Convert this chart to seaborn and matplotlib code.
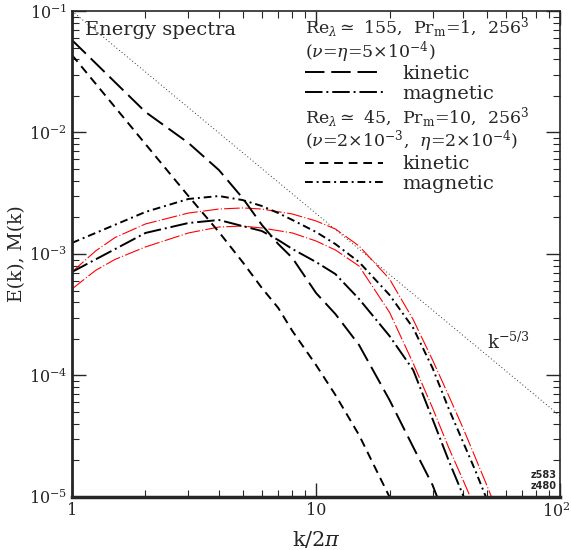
import numpy as np
import pandas as pd
import matplotlib
matplotlib.use("Agg")
import matplotlib.pyplot as plt
import matplotlib.ticker as mticker
import matplotlib.transforms as mtrans
import seaborn as sns

# spectra (log10 of E or M)
k_A = [1, 2, 3, 4, 5, 6, 7, 8, 10, 12, 15, 20, 25, 30, 35]
logE_A = [-1.239, -1.831, -2.086, -2.309, -2.539, -2.761, -2.918, -3.033,
          -3.321, -3.494, -3.749, -4.202, -4.589, -4.901, -5.25]

k_B = [1, 2, 3, 4, 5, 6, 7, 8, 10, 12, 15, 20, 25]
logE_B = [-1.362, -2.095, -2.523, -2.819, -3.066, -3.280, -3.444, -3.634,
          -3.914, -4.160, -4.490, -5.0, -5.52]

k_C = [1, 2, 3, 4, 5, 6, 7, 8, 10, 12, 15, 20, 25, 30, 35, 40, 45]
logM_C = [-3.148, -2.827, -2.745, -2.720, -2.770, -2.811, -2.885, -2.959,
          -3.066, -3.165, -3.370, -3.675, -3.955, -4.358, -4.704, -4.984, -5.3]

k_D = [1, 2, 3, 4, 5, 6, 7, 8, 10, 12, 15, 20, 25, 30, 35, 40, 45, 50, 55]
logM_D = [-2.909, -2.654, -2.547, -2.523, -2.556, -2.605, -2.663, -2.720,
          -2.819, -2.918, -3.066, -3.337, -3.609, -3.938, -4.276, -4.547,
          -4.786, -5.016, -5.25]

k_red = [1, 1.25, 1.5, 2, 3, 4, 5, 6, 8, 10, 12, 15, 20, 25, 30, 35, 40, 45, 50, 55]
logM_red_up = [-3.148, -2.975, -2.865, -2.753, -2.663, -2.630, -2.621, -2.630,
               -2.671, -2.728, -2.794, -2.934, -3.206, -3.540, -3.872, -4.169,
               -4.432, -4.679, -4.901, -5.107]
k_red2 = [1, 1.25, 1.5, 2, 3, 4, 5, 6, 8, 10, 12, 15, 20, 25, 30, 35, 40, 45]
logM_red_lo = [-3.288, -3.135, -3.045, -2.942, -2.827, -2.778, -2.770, -2.786,
               -2.827, -2.893, -2.967, -3.099, -3.480, -3.900, -4.267, -4.597,
               -4.860, -5.099]

k_ref = [1, 100]
E_ref = [0.1, 0.1 * 100 ** (-5 / 3)]

sns.set_style("ticks")
plt.rcParams['font.family'] = ['DejaVu Serif']
plt.rcParams['mathtext.fontset'] = 'dejavuserif'

fig = plt.figure(figsize=(5.71, 5.5), dpi=100)
ax = fig.add_axes([0.126, 0.0964, 0.855, 0.8836])


def curve(k, logv, **kw):
    df = pd.DataFrame({'k': k, 'v': 10 ** np.array(logv)})
    sns.lineplot(data=df, x='k', y='v', estimator=None, ax=ax, **kw)
    return ax.lines[-1]


curve(k_ref, np.log10(E_ref), color='0.2', lw=0.7, linestyle=(0, (1, 2.5)))
curve(k_red, logM_red_up, color='red', lw=0.8, linestyle=(0, (14, 2, 1, 2)))
curve(k_red2, logM_red_lo, color='red', lw=0.8, linestyle=(0, (14, 2, 1, 2)))
hA = curve(k_A, logE_A, color='k', lw=1.4, linestyle=(0, (10, 3.5)))
hC = curve(k_C, logM_C, color='k', lw=1.4, linestyle=(0, (9, 2, 1, 2)))
hB = curve(k_B, logE_B, color='k', lw=1.4, linestyle=(0, (4.5, 3)))
hD = curve(k_D, logM_D, color='k', lw=1.4, linestyle=(0, (4, 2, 1, 2)))

ax.set_xscale('log')
ax.set_yscale('log')
ax.set_xlim(1, 100)
ax.set_ylim(1e-5, 1e-1)
ax.set_xticks([1, 10, 100])
ax.xaxis.set_major_formatter(mticker.FixedFormatter(['1', '10', '$10^2$']))
ax.tick_params(which='both', direction='in', top=True, right=True, labelsize=11.5)
ax.tick_params(which='major', length=10, width=1)
ax.tick_params(which='minor', length=5, width=0.8)
ax.spines['bottom'].set_linewidth(2.5)
ax.spines['left'].set_linewidth(2)
ax.spines['top'].set_linewidth(1.2)
ax.spines['right'].set_linewidth(1.2)
ax.set_xlabel(r'k/2$\pi$', fontsize=15, labelpad=6)
ax.set_ylabel('E(k), M(k)', fontsize=13.5, labelpad=2)

# nudge the last x tick label so it stays inside the figure
lab = ax.get_xticklabels()[-1]
lab.set_transform(lab.get_transform() + mtrans.ScaledTranslation(-3 / 72, 0, fig.dpi_scale_trans))

ax.text(0.027, 0.9605, 'Energy spectra', transform=ax.transAxes,
        fontsize=14, va='center', ha='left')
ax.text(0.85, 0.318, r'k$^{-5/3}$', transform=ax.transAxes, fontsize=13,
        va='center')
ax.text(0.992, 0.012, 'z583\nz480', transform=ax.transAxes, fontsize=7,
        family='DejaVu Sans', weight='bold', ha='right', va='bottom',
        linespacing=1.15)

x0 = 0.4775
titles = [
    (0.966, 'Re$_\\lambda$$\\simeq$ 155,  Pr$_{\\rm m}$=1,  256$^3$'),
    (0.915, '($\\nu$=$\\eta$=5$\\times$10$^{-4}$)'),
    (0.781, 'Re$_\\lambda$$\\simeq$ 45,  Pr$_{\\rm m}$=10,  256$^3$'),
    (0.732, '($\\nu$=2$\\times$10$^{-3}$,  $\\eta$=2$\\times$10$^{-4}$)'),
]
for y, s in titles:
    ax.text(x0, y, s, transform=ax.transAxes, fontsize=12.5, va='center', ha='left')

leg_kw = dict(loc='upper left', frameon=False, fontsize=14, handlelength=4.0,
              borderaxespad=0, borderpad=0, labelspacing=0.1,
              handletextpad=1.0)
leg1 = ax.legend([hA, hC], ['kinetic', 'magnetic'],
                 bbox_to_anchor=(x0, 0.889), **leg_kw)
ax.add_artist(leg1)
ax.legend([hB, hD], ['kinetic', 'magnetic'],
          bbox_to_anchor=(x0, 0.703), **leg_kw)

fig.savefig('out.png', dpi=100)
